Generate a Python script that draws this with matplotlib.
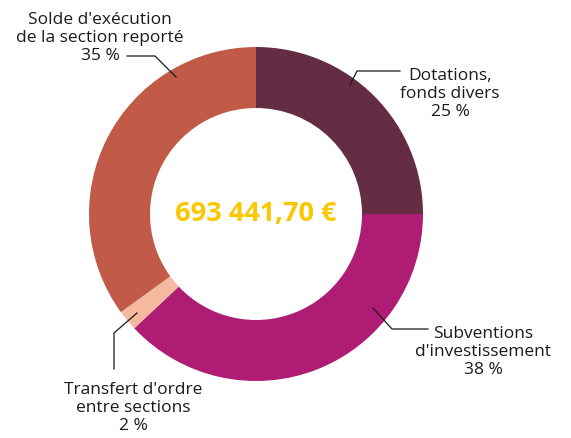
import matplotlib.pyplot as plt

labels = ["Dotations,\nfonds divers", "Subventions\nd'investissement",
          "Transfert d'ordre\nentre sections", "Solde d'exécution\nde la section reporté"]
shares = [25, 38, 2, 35]
colors = ["#652d44", "#ae1d73", "#f5b9a0", "#c15a47"]
total = "693 441,70 €"

H = 439
fig = plt.figure(figsize=(5.71, 4.39), dpi=100)
ax = fig.add_axes([0, 0, 1, 1])

ax.pie(shares, colors=colors, startangle=90, counterclock=False,
       center=(256, H - 215), radius=167,
       wedgeprops=dict(width=61, edgecolor="none"))
ax.set_xlim(0, 571)
ax.set_ylim(0, H)
ax.set_aspect("equal")
ax.axis("off")

font = "Open Sans"
ax.text(256, H - 214, total, ha="center", va="center", fontsize=19.5,
        fontweight="bold", color="#fbc800", family=font)

# labels: (text x, middle line y, leader points in pixel coords)
label_pos = [
    (450, 94, [(400, 72), (357, 72), (350, 86)]),
    (483, 352, [(428, 330), (392, 330), (373, 309)]),
    (133, 408, [(114, 370), (114, 334), (137, 314)]),
    (100, 38, [(127, 57), (155, 57), (176, 78)]),
]
for lab, pct, (x, y, pts) in zip(labels, shares, label_pos):
    ax.text(x, H - y, f"{lab}\n{pct} %", ha="center", va="center",
            fontsize=12.5, color="#1a1a1a", family=font, linespacing=1.17)
    ax.plot([p[0] for p in pts], [H - p[1] for p in pts], color="#1a1a1a", lw=0.9)

fig.savefig("out.png", dpi=100)
